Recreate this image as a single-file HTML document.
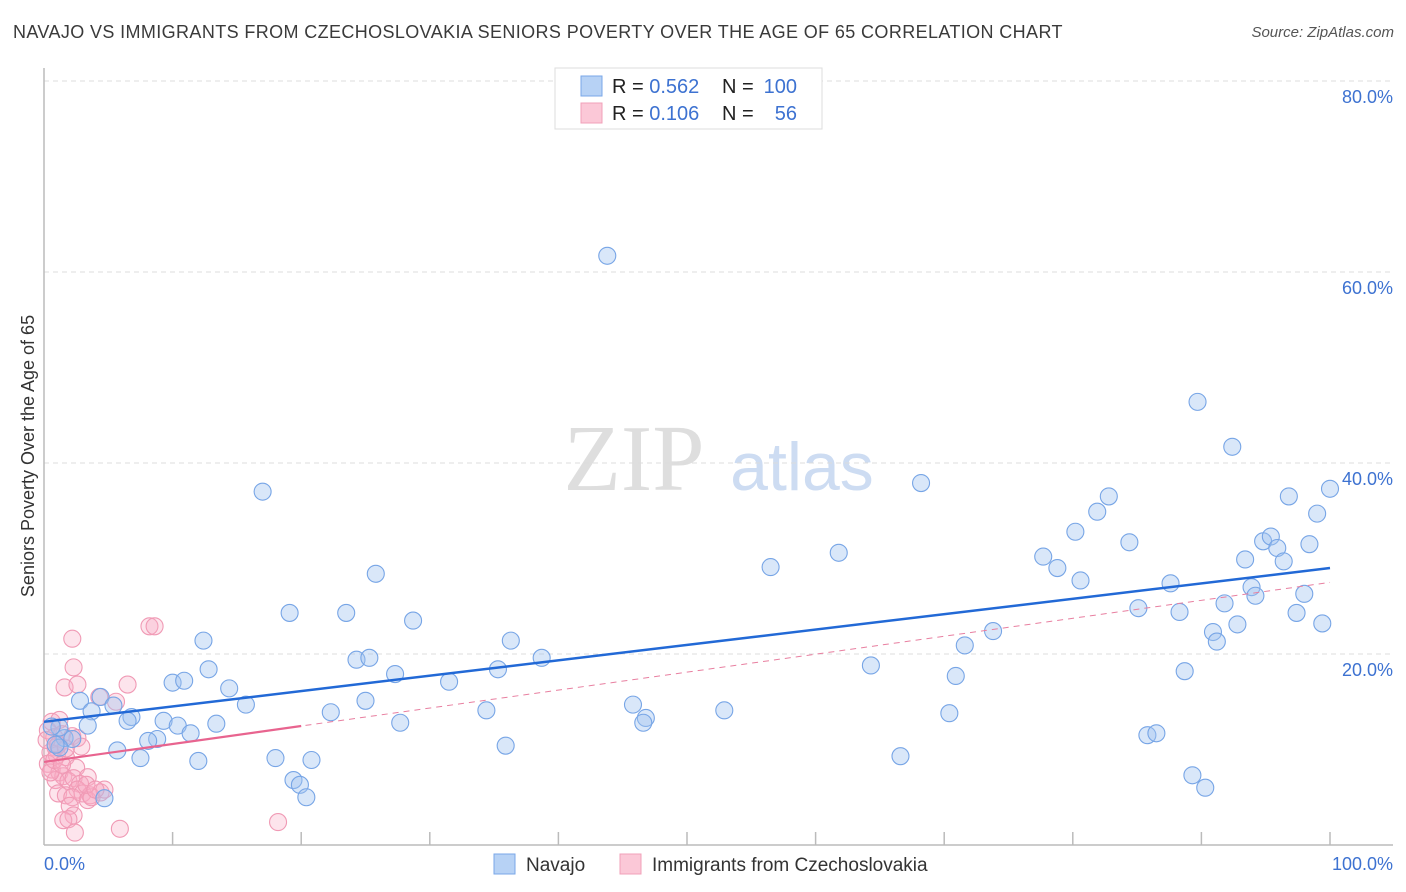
<!DOCTYPE html>
<html><head><meta charset="utf-8"><style>
body{margin:0;background:#fff;font-family:"Liberation Sans",sans-serif;}
#wrap{position:relative;width:1406px;height:892px;overflow:hidden;}
.title{position:absolute;left:13px;top:22px;font-size:18px;color:#3a3a3a;letter-spacing:0.38px;}
.source{position:absolute;right:12px;top:24px;font-size:15px;font-style:italic;color:#555;}
</style></head><body>
<div id="wrap">
<div class="title">NAVAJO VS IMMIGRANTS FROM CZECHOSLOVAKIA SENIORS POVERTY OVER THE AGE OF 65 CORRELATION CHART</div>
<div class="source">Source: ZipAtlas.com</div>
<svg id="svg" width="1406" height="892" style="position:absolute;left:0;top:0"></svg>
</div>
<script>
const yTicks=[20,40,60,80];
const yTickLabels=["20.0%","40.0%","60.0%","80.0%"];
const navajoX=[43.8,17.0,68.2,89.7,92.4,100,96.8,82.8,99.0,81.9,80.2,84.4,77.7,78.8,93.4,94.8,95.4,95.9,98.4,96.4,61.8,56.5,25.8,80.6,87.6,93.9,94.2,98.0,91.8,85.1,88.3,97.4,92.8,99.4,73.8,19.1,23.5,28.7,90.9,91.2,71.6,12.4,36.3,38.7,24.3,25.3,64.3,88.7,35.3,12.8,27.3,31.5,10.0,10.9,70.9,14.4,4.4,2.8,25.0,15.7,45.8,5.4,3.7,34.4,52.9,22.3,70.4,46.8,46.6,6.8,9.3,6.5,27.7,13.4,10.4,3.4,11.4,85.8,86.5,8.8,8.1,1.6,2.2,5.7,1.2,35.9,7.5,12.0,18.0,20.8,66.6,89.3,19.4,19.9,20.4,4.7,90.3,1.2,0.6,0.9];
const navajoY=[61.7,37.0,37.9,46.4,41.7,37.3,36.5,36.5,34.7,34.9,32.8,31.7,30.2,29.0,29.9,31.8,32.3,31.1,31.5,29.7,30.6,29.1,28.4,27.7,27.4,27.0,26.1,26.3,25.3,24.8,24.4,24.3,23.1,23.2,22.4,24.3,24.3,23.5,22.3,21.3,20.9,21.4,21.4,19.6,19.4,19.6,18.8,18.2,18.4,18.4,17.9,17.1,17.0,17.2,17.7,16.4,15.5,15.1,15.1,14.7,14.7,14.6,14.0,14.1,14.1,13.9,13.8,13.3,12.8,13.4,13.0,13.0,12.8,12.7,12.5,12.5,11.7,11.5,11.7,11.1,10.9,11.2,11.1,9.9,10.2,10.4,9.1,8.8,9.1,8.9,9.3,7.3,6.8,6.3,5.0,4.9,6.0,12.3,12.4,10.5];
const czechX=[2.2,2.3,1.6,2.6,4.3,6.5,5.6,8.2,8.6,0.6,1.2,0.3,0.8,1.4,2.2,2.6,2.9,0.9,0.5,1.0,1.7,0.3,0.6,1.2,2.5,1.5,0.9,1.9,2.3,3.4,2.8,2.6,3.0,1.1,1.7,2.2,3.6,4.4,3.4,3.7,2.0,2.3,1.5,1.9,2.4,5.9,18.2,0.5,0.8,1.4,3.3,4.7,0.2,1.1,1.7,4.0];
const czechY=[21.6,18.6,16.5,16.8,15.5,16.8,15.0,22.9,22.9,12.9,13.1,12.0,11.3,11.6,11.4,11.2,10.3,10.2,9.7,9.4,9.2,8.5,7.9,7.6,8.1,7.2,6.8,6.7,7.0,7.1,6.4,5.8,5.4,5.4,5.2,5.0,5.2,5.5,4.7,5.0,4.1,3.1,2.6,2.7,1.3,1.7,2.4,7.6,8.9,8.4,6.3,5.8,11.0,10.5,10.1,5.8];
const navajoTrend=[12.9,29.0];
const czechTrend=[8.7,27.5];

const svg=document.getElementById('svg');
const NS='http://www.w3.org/2000/svg';
const X=v=>44+v*12.86;
const Y=v=>845-v*9.55;
function mk(tag,attrs,parent){const e=document.createElementNS(NS,tag);for(const k in attrs)e.setAttribute(k,attrs[k]);(parent||svg).appendChild(e);return e;}

let wm=mk('text',{x:634,y:490,'font-size':94,'font-family':'Liberation Serif,serif',fill:'#dedede','text-anchor':'middle'});
wm.textContent='ZIP';


let wm2=mk('text',{x:802,y:490,'font-size':68,'font-family':'Liberation Sans,sans-serif',fill:'#cddcf2','text-anchor':'middle'});
wm2.textContent='atlas';



yTicks.forEach((t,i)=>{
  let g=mk('line',{x1:44,x2:1393,y1:Y(t),y2:Y(t),stroke:'#dcdcdc','stroke-dasharray':'5,4','stroke-width':1});
  
  
  let l=mk('text',{x:1393,y:Y(t)+22,'font-size':18,fill:'#3d72d1','text-anchor':'end'});
  l.textContent=yTickLabels[i];
  
  
});
let ax=mk('line',{x1:44,x2:44,y1:68,y2:845,stroke:'#bbb','stroke-width':1.5});


let bx=mk('line',{x1:44,x2:1393,y1:845,y2:845,stroke:'#bbb','stroke-width':1.5});


for(let i=1;i<=10;i++){
  let t=mk('line',{x1:X(i*10),x2:X(i*10),y1:832,y2:845,stroke:'#bbb','stroke-width':1.5});
  
  
}
let x0=mk('text',{x:44,y:870,'font-size':18,fill:'#3d72d1'});x0.textContent='0.0%';


let x1=mk('text',{x:1393,y:870,'font-size':18,fill:'#3d72d1','text-anchor':'end'});x1.textContent='100.0%';


let yt=mk('text',{x:34,y:456,'font-size':18,fill:'#333','text-anchor':'middle',transform:'rotate(-90 34 456)'});
yt.textContent='Seniors Poverty Over the Age of 65';



czechX.forEach((v,i)=>{
  let c=mk('circle',{cx:X(v),cy:Y(czechY[i]),r:8.5,fill:'rgba(248,170,195,0.32)',stroke:'#f09ab5','stroke-width':1.1});
  
  
});
navajoX.forEach((v,i)=>{
  let c=mk('circle',{cx:X(v),cy:Y(navajoY[i]),r:8.5,fill:'rgba(160,195,240,0.4)',stroke:'#77a5e6','stroke-width':1.1});
  
  
});
let cd=mk('line',{x1:X(0),y1:Y(czechTrend[0]),x2:X(100),y2:Y(czechTrend[1]),stroke:'#e87fa0','stroke-width':1,'stroke-dasharray':'6,5'});


let cs=mk('line',{x1:X(0),y1:Y(czechTrend[0]),x2:X(20),y2:Y(czechTrend[0]+(czechTrend[1]-czechTrend[0])*0.2),stroke:'#e8648f','stroke-width':2.2});


let nl=mk('line',{x1:X(0),y1:Y(navajoTrend[0]),x2:X(100),y2:Y(navajoTrend[1]),stroke:'#2269d6','stroke-width':2.5});



let lb=mk('rect',{x:555,y:68,width:267,height:61,fill:'#fff',stroke:'#ddd'});


[[0,'#b7d2f5','#7aa7e8','0.562','100'],[1,'#fbc8d7','#f0a0b8','0.106','56']].forEach(r=>{
  const y=86+r[0]*27;
  let s=mk('rect',{x:581,y:y-10,width:21,height:20,fill:r[1],stroke:r[2]});
  
  
  let t=mk('text',{x:612,y:y+7,'font-size':20,fill:'#222'});
  t.innerHTML='R = <tspan fill="#3d72d1">'+r[3]+'</tspan>';
  
  
  let n=mk('text',{x:722,y:y+7,'font-size':20,fill:'#222'});
  n.textContent='N =';
  
  
  let nv=mk('text',{x:797,y:y+7,'font-size':20,fill:'#3d72d1','text-anchor':'end'});
  nv.textContent=r[4];
  
  
});
[[494,'#b7d2f5','#7aa7e8','Navajo'],[620,'#fbc8d7','#f0a0b8','Immigrants from Czechoslovakia']].forEach(r=>{
  let s=mk('rect',{x:r[0],y:854,width:21,height:20,fill:r[1],stroke:r[2]});
  
  
  let t=mk('text',{x:r[0]+32,y:871,'font-size':19,fill:'#333'});
  t.textContent=r[3];
  
  
});
</script>
</body></html>
